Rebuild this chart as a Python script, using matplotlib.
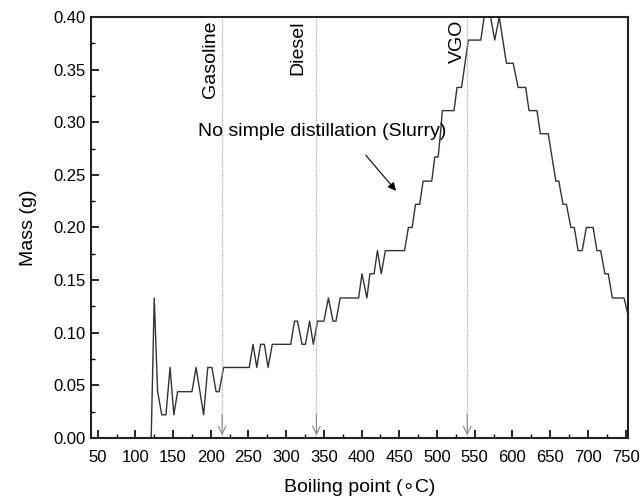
import matplotlib
matplotlib.use("Agg")
import matplotlib.pyplot as plt
from matplotlib.ticker import MultipleLocator

plt.rcParams['font.family'] = ['Liberation Sans', 'DejaVu Sans']

# boiling point (C) / mass (g)
temperature = [121, 125, 129.5, 135, 140.5, 146, 151, 156, 175, 180.5, 190.5, 196, 201.5, 207, 211,
               217, 251, 256, 261, 266, 271, 276, 281.5, 306, 311, 315, 321, 325.5, 331, 336, 341.5,
               350, 356, 362, 366, 371.5, 396, 400.5, 407, 411, 416.5, 421, 426, 431.5, 457, 462,
               467, 471.5, 477, 481.5, 493, 497, 501.5, 504.5, 507, 522.5, 526.5, 532.5, 541.5, 558,
               562.5, 571, 576.5, 582.5, 592, 601, 607.5, 617.5, 622, 632.5, 637, 647.5, 657.5,
               661.5, 667, 671.5, 677.5, 682, 687, 692.5, 698, 707, 712, 717, 722.5, 727, 732.5,
               748, 755]
masse = [0.0, 0.133, 0.044, 0.022, 0.022, 0.067, 0.022, 0.044, 0.044, 0.067, 0.022, 0.067, 0.067,
         0.044, 0.044, 0.067, 0.067, 0.089, 0.067, 0.089, 0.089, 0.067, 0.089, 0.089, 0.111, 0.111,
         0.089, 0.089, 0.111, 0.089, 0.111, 0.111, 0.133, 0.111, 0.111, 0.133, 0.133, 0.156, 0.133,
         0.156, 0.156, 0.178, 0.156, 0.178, 0.178, 0.200, 0.200, 0.222, 0.222, 0.244, 0.244, 0.267,
         0.267, 0.289, 0.311, 0.311, 0.333, 0.333, 0.378, 0.378, 0.400, 0.400, 0.378, 0.400, 0.356,
         0.356, 0.333, 0.333, 0.311, 0.311, 0.289, 0.289, 0.244, 0.244, 0.222, 0.222, 0.200, 0.200,
         0.178, 0.178, 0.200, 0.200, 0.178, 0.178, 0.156, 0.156, 0.133, 0.133, 0.111]

coupes = ["Gasoline", "Diesel", "VGO"]
limites = [215, 340, 540]
posTexte = [199, 316, 526.5]

fig = plt.figure(figsize=(6.4, 4.98), dpi=100)
ax = fig.add_axes([0.142, 0.1205, 0.839, 0.8455])

ax.plot(temperature, masse, color='#333333', lw=1.0)

for nom, xl, xt in zip(coupes, limites, posTexte):
    ax.plot([xl, xl], [0, 0.4], color='#aaaaaa', lw=0.9, linestyle=(0, (1, 1)))
    ax.annotate('', xy=(xl, 0.0), xytext=(xl, 0.025),
                arrowprops=dict(arrowstyle='->', color='#888888', lw=0.8, mutation_scale=14))
    ax.text(xt, 0.397, nom, rotation=90, ha='center', va='top', fontsize=14)

ax.text(347.6, 0.2907, "No simple distillation (Slurry)", ha='center', va='center', fontsize=14)
ax.annotate('', xy=(448, 0.2328), xytext=(403, 0.2708),
            arrowprops=dict(arrowstyle='-|>', color='black', lw=0.8, mutation_scale=12))

ax.xaxis.set_minor_locator(MultipleLocator(25))
ax.yaxis.set_major_locator(MultipleLocator(0.05))
ax.yaxis.set_minor_locator(MultipleLocator(0.025))
ax.set_xticks(range(50, 751, 50))
ax.set_xlim(41, 753)
ax.set_ylim(0, 0.40)
ax.yaxis.set_major_formatter(plt.FormatStrFormatter('%.2f'))
ax.tick_params(which='both', direction='in', top=False, right=False, labelsize=12)
ax.tick_params(which='major', length=6, width=1.2)
ax.tick_params(which='minor', length=3, width=1.0)
ax.tick_params(axis='x', which='major', pad=9)
for s in ax.spines.values():
    s.set_linewidth(1.5)
    s.set_color('#222222')

ax.set_xlabel("Boiling point (\u2218C)", fontsize=14, labelpad=10)
ax.set_ylabel("Mass (g)", fontsize=14, labelpad=12)

fig.savefig("out.png", dpi=100)
